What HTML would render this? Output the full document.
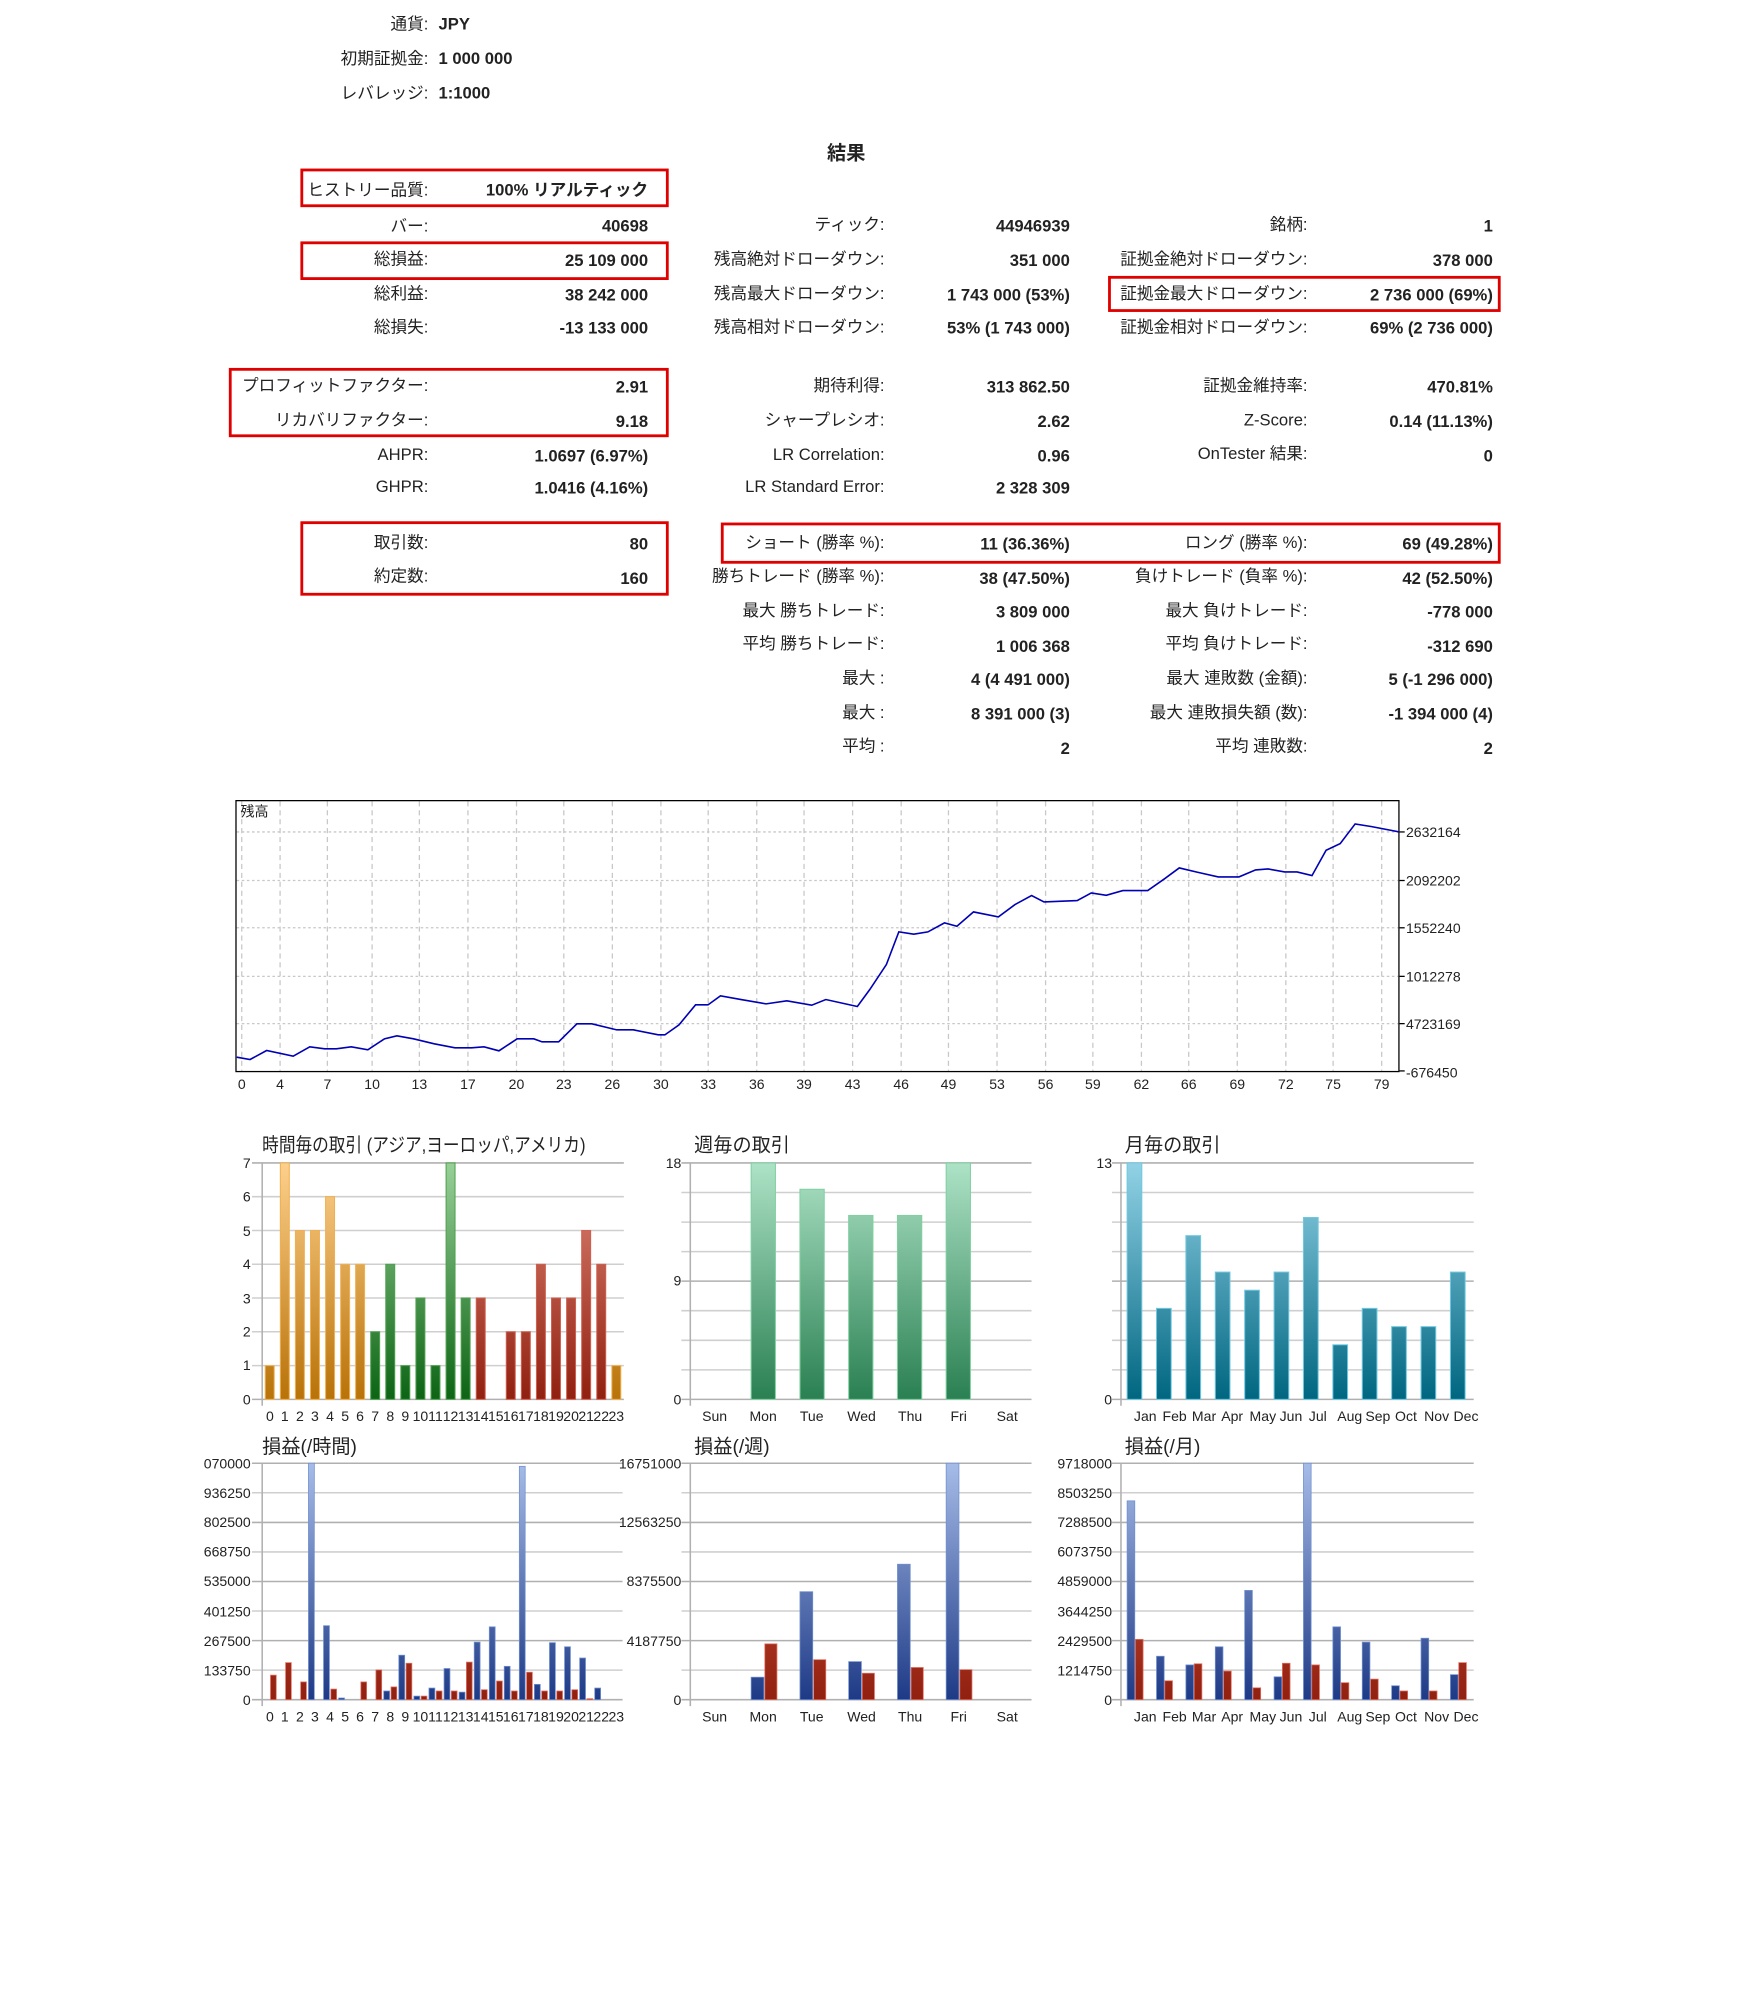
<!DOCTYPE html>
<html><head><meta charset="utf-8"><style>
html,body{margin:0;padding:0;background:#fff;width:1741px;height:2000px;overflow:hidden}
svg{display:block}
text{font-family:"Liberation Sans","Noto Sans CJK JP",sans-serif;fill:#222}
.l{font-size:13px;text-anchor:end}
.v{font-size:13px;font-weight:bold;text-anchor:end;font-family:"Liberation Sans","Noto Sans CJK JP",sans-serif}
.t{font-size:15px}
.ax{font-size:11px;fill:#222}
.axe{font-size:11px;text-anchor:end}
.axm{font-size:11px;text-anchor:middle}
.g{stroke:#cfcfcf;stroke-width:1.2}
.g2{stroke:#b0b0b0;stroke-width:1.2}
.box{fill:none;stroke:#e00000;stroke-width:2.2}
</style></head><body>
<svg width="1741" height="2000" viewBox="0 0 1362 1565" xmlns="http://www.w3.org/2000/svg">
<defs>
<linearGradient id="or" gradientUnits="userSpaceOnUse" x1="0" y1="910" x2="0" y2="1095"><stop offset="0" stop-color="#fdd08c"/><stop offset="1" stop-color="#b87208"/></linearGradient>
<linearGradient id="gr" gradientUnits="userSpaceOnUse" x1="0" y1="910" x2="0" y2="1095"><stop offset="0" stop-color="#98d098"/><stop offset="1" stop-color="#0c6414"/></linearGradient>
<linearGradient id="rd" gradientUnits="userSpaceOnUse" x1="0" y1="910" x2="0" y2="1095"><stop offset="0" stop-color="#e08878"/><stop offset="1" stop-color="#902010"/></linearGradient>
<linearGradient id="wg" gradientUnits="userSpaceOnUse" x1="0" y1="910" x2="0" y2="1095"><stop offset="0" stop-color="#ade2c6"/><stop offset="1" stop-color="#2a8052"/></linearGradient>
<linearGradient id="mt" gradientUnits="userSpaceOnUse" x1="0" y1="910" x2="0" y2="1095"><stop offset="0" stop-color="#92d2e6"/><stop offset="1" stop-color="#006680"/></linearGradient>
<linearGradient id="bl" gradientUnits="userSpaceOnUse" x1="0" y1="1145" x2="0" y2="1330"><stop offset="0" stop-color="#a6bce8"/><stop offset="1" stop-color="#1e3a86"/></linearGradient>
<linearGradient id="rr" gradientUnits="userSpaceOnUse" x1="0" y1="1145" x2="0" y2="1330"><stop offset="0" stop-color="#e86048"/><stop offset="1" stop-color="#902010"/></linearGradient>
<clipPath id="cl"><rect x="1090" y="600" width="56" height="260"/></clipPath>
</defs>

<!-- header -->
<text class="l" x="335" y="23">通貨:</text><text class="v" x="343" y="23" style="text-anchor:start">JPY</text>
<text class="l" x="335" y="50">初期証拠金:</text><text class="v" x="343" y="50" style="text-anchor:start">1 000 000</text>
<text class="l" x="335" y="77">レバレッジ:</text><text class="v" x="343" y="77" style="text-anchor:start">1:1000</text>
<text x="662" y="125" style="font-size:15px;font-weight:bold;text-anchor:middle">結果</text>

<!-- col A -->
<text class="l" x="335" y="153">ヒストリー品質:</text><text class="v" x="507" y="153">100% リアルティック</text>
<text class="l" x="335" y="181">バー:</text><text class="v" x="507" y="181">40698</text>
<text class="l" x="335" y="207">総損益:</text><text class="v" x="507" y="208">25 109 000</text>
<text class="l" x="335" y="234">総利益:</text><text class="v" x="507" y="235">38 242 000</text>
<text class="l" x="335" y="260">総損失:</text><text class="v" x="507" y="261">-13 133 000</text>
<text class="l" x="335" y="306">プロフィットファクター:</text><text class="v" x="507" y="307">2.91</text>
<text class="l" x="335" y="333">リカバリファクター:</text><text class="v" x="507" y="334">9.18</text>
<text class="l" x="335" y="360">AHPR:</text><text class="v" x="507" y="361">1.0697 (6.97%)</text>
<text class="l" x="335" y="385">GHPR:</text><text class="v" x="507" y="386">1.0416 (4.16%)</text>
<text class="l" x="335" y="429">取引数:</text><text class="v" x="507" y="430">80</text>
<text class="l" x="335" y="455">約定数:</text><text class="v" x="507" y="457">160</text>

<!-- col B -->
<text class="l" x="692" y="180">ティック:</text><text class="v" x="837" y="181">44946939</text>
<text class="l" x="692" y="207">残高絶対ドローダウン:</text><text class="v" x="837" y="208">351 000</text>
<text class="l" x="692" y="234">残高最大ドローダウン:</text><text class="v" x="837" y="235">1 743 000 (53%)</text>
<text class="l" x="692" y="260">残高相対ドローダウン:</text><text class="v" x="837" y="261">53% (1 743 000)</text>
<text class="l" x="692" y="306">期待利得:</text><text class="v" x="837" y="307">313 862.50</text>
<text class="l" x="692" y="333">シャープレシオ:</text><text class="v" x="837" y="334">2.62</text>
<text class="l" x="692" y="360">LR Correlation:</text><text class="v" x="837" y="361">0.96</text>
<text class="l" x="692" y="385">LR Standard Error:</text><text class="v" x="837" y="386">2 328 309</text>
<text class="l" x="692" y="429">ショート (勝率 %):</text><text class="v" x="837" y="430">11 (36.36%)</text>
<text class="l" x="692" y="455">勝ちトレード (勝率 %):</text><text class="v" x="837" y="457">38 (47.50%)</text>
<text class="l" x="692" y="482">最大 勝ちトレード:</text><text class="v" x="837" y="483">3 809 000</text>
<text class="l" x="692" y="508">平均 勝ちトレード:</text><text class="v" x="837" y="510">1 006 368</text>
<text class="l" x="692" y="535">最大 :</text><text class="v" x="837" y="536">4 (4 491 000)</text>
<text class="l" x="692" y="562">最大 :</text><text class="v" x="837" y="563">8 391 000 (3)</text>
<text class="l" x="692" y="588">平均 :</text><text class="v" x="837" y="590">2</text>

<!-- col C -->
<text class="l" x="1023" y="180">銘柄:</text><text class="v" x="1168" y="181">1</text>
<text class="l" x="1023" y="207">証拠金絶対ドローダウン:</text><text class="v" x="1168" y="208">378 000</text>
<text class="l" x="1023" y="234">証拠金最大ドローダウン:</text><text class="v" x="1168" y="235">2 736 000 (69%)</text>
<text class="l" x="1023" y="260">証拠金相対ドローダウン:</text><text class="v" x="1168" y="261">69% (2 736 000)</text>
<text class="l" x="1023" y="306">証拠金維持率:</text><text class="v" x="1168" y="307">470.81%</text>
<text class="l" x="1023" y="333">Z-Score:</text><text class="v" x="1168" y="334">0.14 (11.13%)</text>
<text class="l" x="1023" y="359">OnTester 結果:</text><text class="v" x="1168" y="361">0</text>
<text class="l" x="1023" y="429">ロング (勝率 %):</text><text class="v" x="1168" y="430">69 (49.28%)</text>
<text class="l" x="1023" y="455">負けトレード (負率 %):</text><text class="v" x="1168" y="457">42 (52.50%)</text>
<text class="l" x="1023" y="482">最大 負けトレード:</text><text class="v" x="1168" y="483">-778 000</text>
<text class="l" x="1023" y="508">平均 負けトレード:</text><text class="v" x="1168" y="510">-312 690</text>
<text class="l" x="1023" y="535">最大 連敗数 (金額):</text><text class="v" x="1168" y="536">5 (-1 296 000)</text>
<text class="l" x="1023" y="562">最大 連敗損失額 (数):</text><text class="v" x="1168" y="563">-1 394 000 (4)</text>
<text class="l" x="1023" y="588">平均 連敗数:</text><text class="v" x="1168" y="590">2</text>

<!-- red boxes -->
<rect class="box" x="236" y="133" width="286" height="28"/>
<rect class="box" x="236" y="190" width="286" height="28"/>
<rect class="box" x="868" y="217" width="305" height="26"/>
<rect class="box" x="180" y="289" width="342" height="52"/>
<rect class="box" x="236" y="409" width="286" height="56"/>
<rect class="box" x="565" y="410" width="608" height="30"/>

<!-- balance chart -->
<g stroke="#c8c8c8" stroke-width="1" stroke-dasharray="4,3">
<line x1="189" y1="627" x2="189" y2="838"/><line x1="219" y1="627" x2="219" y2="838"/><line x1="256" y1="627" x2="256" y2="838"/><line x1="291" y1="627" x2="291" y2="838"/><line x1="328" y1="627" x2="328" y2="838"/><line x1="366" y1="627" x2="366" y2="838"/><line x1="404" y1="627" x2="404" y2="838"/><line x1="441" y1="627" x2="441" y2="838"/><line x1="479" y1="627" x2="479" y2="838"/><line x1="517" y1="627" x2="517" y2="838"/><line x1="554" y1="627" x2="554" y2="838"/><line x1="592" y1="627" x2="592" y2="838"/><line x1="629" y1="627" x2="629" y2="838"/><line x1="667" y1="627" x2="667" y2="838"/><line x1="705" y1="627" x2="705" y2="838"/><line x1="742" y1="627" x2="742" y2="838"/><line x1="780" y1="627" x2="780" y2="838"/><line x1="818" y1="627" x2="818" y2="838"/><line x1="855" y1="627" x2="855" y2="838"/><line x1="893" y1="627" x2="893" y2="838"/><line x1="930" y1="627" x2="930" y2="838"/><line x1="968" y1="627" x2="968" y2="838"/><line x1="1006" y1="627" x2="1006" y2="838"/><line x1="1043" y1="627" x2="1043" y2="838"/><line x1="1081" y1="627" x2="1081" y2="838"/>
</g>
<g stroke="#c8c8c8" stroke-width="1" stroke-dasharray="2,2">
<line x1="185" y1="651" x2="1094" y2="651"/><line x1="185" y1="689" x2="1094" y2="689"/><line x1="185" y1="726" x2="1094" y2="726"/><line x1="185" y1="764" x2="1094" y2="764"/><line x1="185" y1="801" x2="1094" y2="801"/>
</g>
<rect x="184.5" y="626.5" width="910" height="212" fill="none" stroke="#000" stroke-width="1"/>
<g stroke="#000" stroke-width="1"><line x1="1095" y1="651" x2="1099" y2="651"/><line x1="1095" y1="689" x2="1099" y2="689"/><line x1="1095" y1="726" x2="1099" y2="726"/><line x1="1095" y1="764" x2="1099" y2="764"/><line x1="1095" y1="801" x2="1099" y2="801"/><line x1="1095" y1="838" x2="1099" y2="838"/></g>
<text x="188" y="639" style="font-size:11px">残高</text>
<g clip-path="url(#cl)" class="ax">
<text class="ax" x="1100" y="655">2632164</text><text class="ax" x="1100" y="693">2092202</text><text class="ax" x="1100" y="730">1552240</text><text class="ax" x="1100" y="768">1012278</text><text class="ax" x="1100" y="805">4723169</text><text class="ax" x="1100" y="843">-676450</text>
</g>
<g class="axm">
<text class="axm" x="189" y="852">0</text><text class="axm" x="219" y="852">4</text><text class="axm" x="256" y="852">7</text><text class="axm" x="291" y="852">10</text><text class="axm" x="328" y="852">13</text><text class="axm" x="366" y="852">17</text><text class="axm" x="404" y="852">20</text><text class="axm" x="441" y="852">23</text><text class="axm" x="479" y="852">26</text><text class="axm" x="517" y="852">30</text><text class="axm" x="554" y="852">33</text><text class="axm" x="592" y="852">36</text><text class="axm" x="629" y="852">39</text><text class="axm" x="667" y="852">43</text><text class="axm" x="705" y="852">46</text><text class="axm" x="742" y="852">49</text><text class="axm" x="780" y="852">53</text><text class="axm" x="818" y="852">56</text><text class="axm" x="855" y="852">59</text><text class="axm" x="893" y="852">62</text><text class="axm" x="930" y="852">66</text><text class="axm" x="968" y="852">69</text><text class="axm" x="1006" y="852">72</text><text class="axm" x="1043" y="852">75</text><text class="axm" x="1081" y="852">79</text>
</g>
<g transform="translate(157.84,611.37) scale(0.6492,0.2607)">
<polyline fill="none" stroke="#0000b4" stroke-width="1.6" vector-effect="non-scaling-stroke" points="42,828 58,835 78,808 110,825 130,797 148,803 162,803 180,797 200,806 220,773 235,764 255,773 280,788 305,800 325,800 340,797 358,809 380,773 400,773 410,782 430,782 452,728 470,728 500,746 520,746 550,761 558,761 575,731 595,671 610,671 625,644 650,655 680,668 705,659 735,672 752,655 790,676 805,625 825,550 840,452 858,459 875,452 895,425 910,435 930,392 960,407 980,370 1000,343 1015,362 1055,358 1072,335 1090,342 1110,328 1140,328 1160,293 1178,260 1200,273 1225,287 1250,287 1270,266 1285,263 1305,272 1320,272 1338,283 1355,207 1372,187 1390,128 1410,136 1443,152"/>
</g>

<!-- ===== Hourly count ===== -->
<text class="t" x="205" y="901" textLength="253" lengthAdjust="spacingAndGlyphs">時間毎の取引 (アジア,ヨーロッパ,アメリカ)</text>
<g>
<line class="g2" x1="197" y1="910" x2="488" y2="910"/><line class="g" x1="197" y1="936.4" x2="488" y2="936.4"/><line class="g" x1="197" y1="962.9" x2="488" y2="962.9"/><line class="g" x1="197" y1="989.3" x2="488" y2="989.3"/><line class="g" x1="197" y1="1015.7" x2="488" y2="1015.7"/><line class="g" x1="197" y1="1042.1" x2="488" y2="1042.1"/><line class="g" x1="197" y1="1068.6" x2="488" y2="1068.6"/><line class="g2" x1="197" y1="1095" x2="488" y2="1095"/>
<line class="g2" x1="205" y1="910" x2="205" y2="1100"/>
</g>
<g class="axe"><text class="axe" x="196" y="914">7</text><text class="axe" x="196" y="940">6</text><text class="axe" x="196" y="967">5</text><text class="axe" x="196" y="993">4</text><text class="axe" x="196" y="1020">3</text><text class="axe" x="196" y="1046">2</text><text class="axe" x="196" y="1072">1</text><text class="axe" x="196" y="1099">0</text></g>
<g stroke-width="0.8">
<rect x="207.4" y="1068.6" width="7" height="26.4" fill="url(#or)" stroke="#f0b050"/>
<rect x="219.2" y="910" width="7" height="185" fill="url(#or)" stroke="#f0b050"/>
<rect x="231" y="962.9" width="7" height="132.1" fill="url(#or)" stroke="#f0b050"/>
<rect x="242.8" y="962.9" width="7" height="132.1" fill="url(#or)" stroke="#f0b050"/>
<rect x="254.6" y="936.4" width="7" height="158.6" fill="url(#or)" stroke="#f0b050"/>
<rect x="266.4" y="989.3" width="7" height="105.7" fill="url(#or)" stroke="#f0b050"/>
<rect x="278.1" y="989.3" width="7" height="105.7" fill="url(#or)" stroke="#f0b050"/>
<rect x="289.9" y="1042.1" width="7" height="52.9" fill="url(#gr)" stroke="#50a050"/>
<rect x="301.7" y="989.3" width="7" height="105.7" fill="url(#gr)" stroke="#50a050"/>
<rect x="313.5" y="1068.6" width="7" height="26.4" fill="url(#gr)" stroke="#50a050"/>
<rect x="325.3" y="1015.7" width="7" height="79.3" fill="url(#gr)" stroke="#50a050"/>
<rect x="337.1" y="1068.6" width="7" height="26.4" fill="url(#gr)" stroke="#50a050"/>
<rect x="348.9" y="910" width="7" height="185" fill="url(#gr)" stroke="#50a050"/>
<rect x="360.7" y="1015.7" width="7" height="79.3" fill="url(#gr)" stroke="#50a050"/>
<rect x="372.5" y="1015.7" width="7" height="79.3" fill="url(#rd)" stroke="#d06050"/>
<rect x="396" y="1042.1" width="7" height="52.9" fill="url(#rd)" stroke="#d06050"/>
<rect x="407.8" y="1042.1" width="7" height="52.9" fill="url(#rd)" stroke="#d06050"/>
<rect x="419.6" y="989.3" width="7" height="105.7" fill="url(#rd)" stroke="#d06050"/>
<rect x="431.4" y="1015.7" width="7" height="79.3" fill="url(#rd)" stroke="#d06050"/>
<rect x="443.2" y="1015.7" width="7" height="79.3" fill="url(#rd)" stroke="#d06050"/>
<rect x="455" y="962.9" width="7" height="132.1" fill="url(#rd)" stroke="#d06050"/>
<rect x="466.8" y="989.3" width="7" height="105.7" fill="url(#rd)" stroke="#d06050"/>
<rect x="478.6" y="1068.6" width="7" height="26.4" fill="url(#or)" stroke="#f0b050"/>
</g>
<g class="axm" style="font-size:10.5px">
<text class="axm" x="211" y="1112">0</text><text class="axm" x="222.7" y="1112">1</text><text class="axm" x="234.5" y="1112">2</text><text class="axm" x="246.3" y="1112">3</text><text class="axm" x="258.1" y="1112">4</text><text class="axm" x="269.9" y="1112">5</text><text class="axm" x="281.6" y="1112">6</text><text class="axm" x="293.4" y="1112">7</text><text class="axm" x="305.2" y="1112">8</text><text class="axm" x="317" y="1112">9</text><text class="axm" x="328.8" y="1112">10</text><text class="axm" x="340.6" y="1112">11</text><text class="axm" x="352.4" y="1112">12</text><text class="axm" x="364.2" y="1112">13</text><text class="axm" x="376" y="1112">14</text><text class="axm" x="387.8" y="1112">15</text><text class="axm" x="399.5" y="1112">16</text><text class="axm" x="411.3" y="1112">17</text><text class="axm" x="423.1" y="1112">18</text><text class="axm" x="434.9" y="1112">19</text><text class="axm" x="446.7" y="1112">20</text><text class="axm" x="458.5" y="1112">21</text><text class="axm" x="470.3" y="1112">22</text><text class="axm" x="482.1" y="1112">23</text>
</g>

<!-- ===== Weekly count ===== -->
<text class="t" x="543" y="901">週毎の取引</text>
<g>
<line class="g2" x1="533" y1="910" x2="807" y2="910"/><line class="g" x1="533" y1="933.1" x2="807" y2="933.1"/><line class="g" x1="533" y1="956.3" x2="807" y2="956.3"/><line class="g" x1="533" y1="979.4" x2="807" y2="979.4"/><line class="g2" x1="533" y1="1002.5" x2="807" y2="1002.5"/><line class="g" x1="533" y1="1025.6" x2="807" y2="1025.6"/><line class="g" x1="533" y1="1048.8" x2="807" y2="1048.8"/><line class="g" x1="533" y1="1071.9" x2="807" y2="1071.9"/><line class="g2" x1="533" y1="1095" x2="807" y2="1095"/>
<line class="g2" x1="540" y1="910" x2="540" y2="1100"/>
</g>
<text class="axe" x="533" y="914">18</text><text class="axe" x="533" y="1006">9</text><text class="axe" x="533" y="1099">0</text>
<g stroke="#80d0a0" stroke-width="0.8" fill="url(#wg)">
<rect x="587.6" y="910" width="19" height="185"/>
<rect x="625.8" y="930.6" width="19" height="164.4"/>
<rect x="663.9" y="951.1" width="19" height="143.9"/>
<rect x="702.1" y="951.1" width="19" height="143.9"/>
<rect x="740.2" y="910" width="19" height="185"/>
</g>
<g class="axm"><text class="axm" x="559" y="1112">Sun</text><text class="axm" x="597" y="1112">Mon</text><text class="axm" x="635" y="1112">Tue</text><text class="axm" x="674" y="1112">Wed</text><text class="axm" x="712" y="1112">Thu</text><text class="axm" x="750" y="1112">Fri</text><text class="axm" x="788" y="1112">Sat</text></g>

<!-- ===== Monthly count ===== -->
<text class="t" x="880" y="901">月毎の取引</text>
<g>
<line class="g2" x1="870" y1="910" x2="1153" y2="910"/><line class="g" x1="870" y1="933.1" x2="1153" y2="933.1"/><line class="g" x1="870" y1="956.3" x2="1153" y2="956.3"/><line class="g" x1="870" y1="979.4" x2="1153" y2="979.4"/><line class="g2" x1="870" y1="1002.5" x2="1153" y2="1002.5"/><line class="g" x1="870" y1="1025.6" x2="1153" y2="1025.6"/><line class="g" x1="870" y1="1048.8" x2="1153" y2="1048.8"/><line class="g" x1="870" y1="1071.9" x2="1153" y2="1071.9"/><line class="g2" x1="870" y1="1095" x2="1153" y2="1095"/>
<line class="g2" x1="877" y1="910" x2="877" y2="1100"/>
</g>
<text class="axe" x="870" y="914">13</text><text class="axe" x="870" y="1099">0</text>
<g stroke="#70c8e0" stroke-width="0.8" fill="url(#mt)">
<rect x="881.8" y="910" width="11.5" height="185"/>
<rect x="904.8" y="1023.8" width="11.5" height="71.2"/>
<rect x="927.8" y="966.9" width="11.5" height="128.1"/>
<rect x="950.8" y="995.4" width="11.5" height="99.6"/>
<rect x="973.8" y="1009.6" width="11.5" height="85.4"/>
<rect x="996.8" y="995.4" width="11.5" height="99.6"/>
<rect x="1019.8" y="952.7" width="11.5" height="142.3"/>
<rect x="1042.8" y="1052.3" width="11.5" height="42.7"/>
<rect x="1065.8" y="1023.8" width="11.5" height="71.2"/>
<rect x="1088.8" y="1038.1" width="11.5" height="56.9"/>
<rect x="1111.8" y="1038.1" width="11.5" height="56.9"/>
<rect x="1134.8" y="995.4" width="11.5" height="99.6"/>
</g>
<g class="axm"><text class="axm" x="896" y="1112">Jan</text><text class="axm" x="919" y="1112">Feb</text><text class="axm" x="942" y="1112">Mar</text><text class="axm" x="964" y="1112">Apr</text><text class="axm" x="988" y="1112">May</text><text class="axm" x="1010" y="1112">Jun</text><text class="axm" x="1031" y="1112">Jul</text><text class="axm" x="1056" y="1112">Aug</text><text class="axm" x="1078" y="1112">Sep</text><text class="axm" x="1100" y="1112">Oct</text><text class="axm" x="1124" y="1112">Nov</text><text class="axm" x="1147" y="1112">Dec</text></g>

<!-- ===== Hourly P/L ===== -->
<text class="t" x="205" y="1137">損益(/時間)</text>
<g>
<line class="g2" x1="197" y1="1145" x2="488" y2="1145"/><line class="g" x1="197" y1="1168.1" x2="488" y2="1168.1"/><line class="g2" x1="197" y1="1191.3" x2="488" y2="1191.3"/><line class="g" x1="197" y1="1214.4" x2="488" y2="1214.4"/><line class="g2" x1="197" y1="1237.5" x2="488" y2="1237.5"/><line class="g" x1="197" y1="1260.6" x2="488" y2="1260.6"/><line class="g2" x1="197" y1="1283.8" x2="488" y2="1283.8"/><line class="g" x1="197" y1="1306.9" x2="488" y2="1306.9"/><line class="g2" x1="197" y1="1330" x2="488" y2="1330"/>
<line class="g2" x1="205" y1="1145" x2="205" y2="1335"/>
</g>
<g><text class="axe" x="196" y="1149">070000</text><text class="axe" x="196" y="1172">936250</text><text class="axe" x="196" y="1195">802500</text><text class="axe" x="196" y="1218">668750</text><text class="axe" x="196" y="1241">535000</text><text class="axe" x="196" y="1265">401250</text><text class="axe" x="196" y="1288">267500</text><text class="axe" x="196" y="1311">133750</text><text class="axe" x="196" y="1334">0</text></g>
<g fill="url(#bl)" stroke="#7090d0" stroke-width="0.6">
<rect x="241.2" y="1145" width="4.6" height="185"/>
<rect x="253" y="1272.1" width="4.6" height="57.9"/>
<rect x="264.8" y="1328.7" width="4.6" height="1.3"/>
<rect x="300.1" y="1323.2" width="4.6" height="6.8"/>
<rect x="311.9" y="1295.2" width="4.6" height="34.8"/>
<rect x="323.7" y="1327.2" width="4.6" height="2.8"/>
<rect x="335.5" y="1320.9" width="4.6" height="9.1"/>
<rect x="347.3" y="1305.6" width="4.6" height="24.4"/>
<rect x="359.1" y="1324.1" width="4.6" height="5.9"/>
<rect x="370.9" y="1285" width="4.6" height="45"/>
<rect x="382.7" y="1273" width="4.6" height="57"/>
<rect x="394.4" y="1303.9" width="4.6" height="26.1"/>
<rect x="406.2" y="1147.4" width="4.6" height="182.6"/>
<rect x="418" y="1318" width="4.6" height="12"/>
<rect x="429.8" y="1285.4" width="4.6" height="44.6"/>
<rect x="441.6" y="1288.6" width="4.6" height="41.4"/>
<rect x="453.4" y="1297.4" width="4.6" height="32.6"/>
<rect x="465.2" y="1320.9" width="4.6" height="9.1"/>
</g>
<g fill="url(#rr)" stroke="#e07060" stroke-width="0.6">
<rect x="211.5" y="1310.8" width="4.5" height="19.2"/>
<rect x="223.3" y="1301" width="4.5" height="29"/>
<rect x="235.1" y="1316.1" width="4.5" height="13.9"/>
<rect x="258.7" y="1321.7" width="4.5" height="8.3"/>
<rect x="282.2" y="1316.1" width="4.5" height="13.9"/>
<rect x="294" y="1306.7" width="4.5" height="23.3"/>
<rect x="305.8" y="1320" width="4.5" height="10"/>
<rect x="317.6" y="1301.5" width="4.5" height="28.5"/>
<rect x="329.4" y="1327.2" width="4.5" height="2.8"/>
<rect x="341.2" y="1323.2" width="4.5" height="6.8"/>
<rect x="353" y="1323.2" width="4.5" height="6.8"/>
<rect x="364.8" y="1300.6" width="4.5" height="29.4"/>
<rect x="376.6" y="1322.2" width="4.5" height="7.8"/>
<rect x="388.4" y="1315.4" width="4.5" height="14.6"/>
<rect x="400.1" y="1323.2" width="4.5" height="6.8"/>
<rect x="411.9" y="1308.5" width="4.5" height="21.5"/>
<rect x="423.7" y="1323.2" width="4.5" height="6.8"/>
<rect x="435.5" y="1323.2" width="4.5" height="6.8"/>
<rect x="447.3" y="1322.2" width="4.5" height="7.8"/>
<rect x="459.1" y="1329.2" width="4.5" height="0.8"/>
</g>
<g class="axm" style="font-size:10.5px">
<text class="axm" x="211" y="1347">0</text><text class="axm" x="222.7" y="1347">1</text><text class="axm" x="234.5" y="1347">2</text><text class="axm" x="246.3" y="1347">3</text><text class="axm" x="258.1" y="1347">4</text><text class="axm" x="269.9" y="1347">5</text><text class="axm" x="281.6" y="1347">6</text><text class="axm" x="293.4" y="1347">7</text><text class="axm" x="305.2" y="1347">8</text><text class="axm" x="317" y="1347">9</text><text class="axm" x="328.8" y="1347">10</text><text class="axm" x="340.6" y="1347">11</text><text class="axm" x="352.4" y="1347">12</text><text class="axm" x="364.2" y="1347">13</text><text class="axm" x="376" y="1347">14</text><text class="axm" x="387.8" y="1347">15</text><text class="axm" x="399.5" y="1347">16</text><text class="axm" x="411.3" y="1347">17</text><text class="axm" x="423.1" y="1347">18</text><text class="axm" x="434.9" y="1347">19</text><text class="axm" x="446.7" y="1347">20</text><text class="axm" x="458.5" y="1347">21</text><text class="axm" x="470.3" y="1347">22</text><text class="axm" x="482.1" y="1347">23</text>
</g>

<!-- ===== Weekly P/L ===== -->
<text class="t" x="543" y="1137">損益(/週)</text>
<g>
<line class="g2" x1="533" y1="1145" x2="807" y2="1145"/><line class="g" x1="533" y1="1168.1" x2="807" y2="1168.1"/><line class="g2" x1="533" y1="1191.3" x2="807" y2="1191.3"/><line class="g" x1="533" y1="1214.4" x2="807" y2="1214.4"/><line class="g2" x1="533" y1="1237.5" x2="807" y2="1237.5"/><line class="g" x1="533" y1="1260.6" x2="807" y2="1260.6"/><line class="g2" x1="533" y1="1283.8" x2="807" y2="1283.8"/><line class="g" x1="533" y1="1306.9" x2="807" y2="1306.9"/><line class="g2" x1="533" y1="1330" x2="807" y2="1330"/>
<line class="g2" x1="540" y1="1145" x2="540" y2="1335"/>
</g>
<rect x="487" y="1138" width="46" height="200" fill="#fff"/>
<g><text class="axe" x="533" y="1149">16751000</text><text class="axe" x="533" y="1195">12563250</text><text class="axe" x="533" y="1241">8375500</text><text class="axe" x="533" y="1288">4187750</text><text class="axe" x="533" y="1334">0</text></g>
<g fill="url(#bl)" stroke="#7090d0" stroke-width="0.6">
<rect x="587.6" y="1312.4" width="10" height="17.6"/>
<rect x="625.8" y="1245.5" width="10" height="84.5"/>
<rect x="663.9" y="1300.2" width="10" height="29.8"/>
<rect x="702.1" y="1224" width="10" height="106"/>
<rect x="740.2" y="1145" width="10" height="185"/>
</g>
<g fill="url(#rr)" stroke="#e07060" stroke-width="0.6">
<rect x="598.3" y="1286.3" width="9.5" height="43.7"/>
<rect x="636.5" y="1298.7" width="9.5" height="31.3"/>
<rect x="674.6" y="1309.3" width="9.5" height="20.7"/>
<rect x="712.8" y="1304.8" width="9.5" height="25.2"/>
<rect x="750.9" y="1306.5" width="9.5" height="23.5"/>
</g>
<g class="axm"><text class="axm" x="559" y="1347">Sun</text><text class="axm" x="597" y="1347">Mon</text><text class="axm" x="635" y="1347">Tue</text><text class="axm" x="674" y="1347">Wed</text><text class="axm" x="712" y="1347">Thu</text><text class="axm" x="750" y="1347">Fri</text><text class="axm" x="788" y="1347">Sat</text></g>

<!-- ===== Monthly P/L ===== -->
<text class="t" x="880" y="1137">損益(/月)</text>
<g>
<line class="g2" x1="870" y1="1145" x2="1153" y2="1145"/><line class="g" x1="870" y1="1168.1" x2="1153" y2="1168.1"/><line class="g2" x1="870" y1="1191.3" x2="1153" y2="1191.3"/><line class="g" x1="870" y1="1214.4" x2="1153" y2="1214.4"/><line class="g2" x1="870" y1="1237.5" x2="1153" y2="1237.5"/><line class="g" x1="870" y1="1260.6" x2="1153" y2="1260.6"/><line class="g2" x1="870" y1="1283.8" x2="1153" y2="1283.8"/><line class="g" x1="870" y1="1306.9" x2="1153" y2="1306.9"/><line class="g2" x1="870" y1="1330" x2="1153" y2="1330"/>
<line class="g2" x1="877" y1="1145" x2="877" y2="1335"/>
</g>
<rect x="820" y="1138" width="50" height="200" fill="#fff"/>
<g><text class="axe" x="870" y="1149">9718000</text><text class="axe" x="870" y="1172">8503250</text><text class="axe" x="870" y="1195">7288500</text><text class="axe" x="870" y="1218">6073750</text><text class="axe" x="870" y="1241">4859000</text><text class="axe" x="870" y="1265">3644250</text><text class="axe" x="870" y="1288">2429500</text><text class="axe" x="870" y="1311">1214750</text><text class="axe" x="870" y="1334">0</text></g>
<g fill="url(#bl)" stroke="#7090d0" stroke-width="0.6">
<rect x="881.8" y="1174.4" width="6" height="155.6"/>
<rect x="904.8" y="1296" width="6" height="34"/>
<rect x="927.8" y="1302.8" width="6" height="27.2"/>
<rect x="950.8" y="1288.6" width="6" height="41.4"/>
<rect x="973.8" y="1244.5" width="6" height="85.5"/>
<rect x="996.8" y="1312.1" width="6" height="17.9"/>
<rect x="1019.8" y="1145" width="6" height="185"/>
<rect x="1042.8" y="1273" width="6" height="57"/>
<rect x="1065.8" y="1285" width="6" height="45"/>
<rect x="1088.8" y="1319.1" width="6" height="10.9"/>
<rect x="1111.8" y="1281.9" width="6" height="48.1"/>
<rect x="1134.8" y="1310.4" width="6" height="19.6"/>
</g>
<g fill="url(#rr)" stroke="#e07060" stroke-width="0.6">
<rect x="888.3" y="1282.8" width="6" height="47.2"/>
<rect x="911.3" y="1315.2" width="6" height="14.8"/>
<rect x="934.3" y="1301.9" width="6" height="28.1"/>
<rect x="957.3" y="1307.6" width="6" height="22.4"/>
<rect x="980.3" y="1320.7" width="6" height="9.3"/>
<rect x="1003.3" y="1301.5" width="6" height="28.5"/>
<rect x="1026.3" y="1302.8" width="6" height="27.2"/>
<rect x="1049.3" y="1316.7" width="6" height="13.3"/>
<rect x="1072.3" y="1313.9" width="6" height="16.1"/>
<rect x="1095.3" y="1323.2" width="6" height="6.8"/>
<rect x="1118.3" y="1323.2" width="6" height="6.8"/>
<rect x="1141.3" y="1301" width="6" height="29"/>
</g>
<g class="axm"><text class="axm" x="896" y="1347">Jan</text><text class="axm" x="919" y="1347">Feb</text><text class="axm" x="942" y="1347">Mar</text><text class="axm" x="964" y="1347">Apr</text><text class="axm" x="988" y="1347">May</text><text class="axm" x="1010" y="1347">Jun</text><text class="axm" x="1031" y="1347">Jul</text><text class="axm" x="1056" y="1347">Aug</text><text class="axm" x="1078" y="1347">Sep</text><text class="axm" x="1100" y="1347">Oct</text><text class="axm" x="1124" y="1347">Nov</text><text class="axm" x="1147" y="1347">Dec</text></g>
</svg>
</body></html>
